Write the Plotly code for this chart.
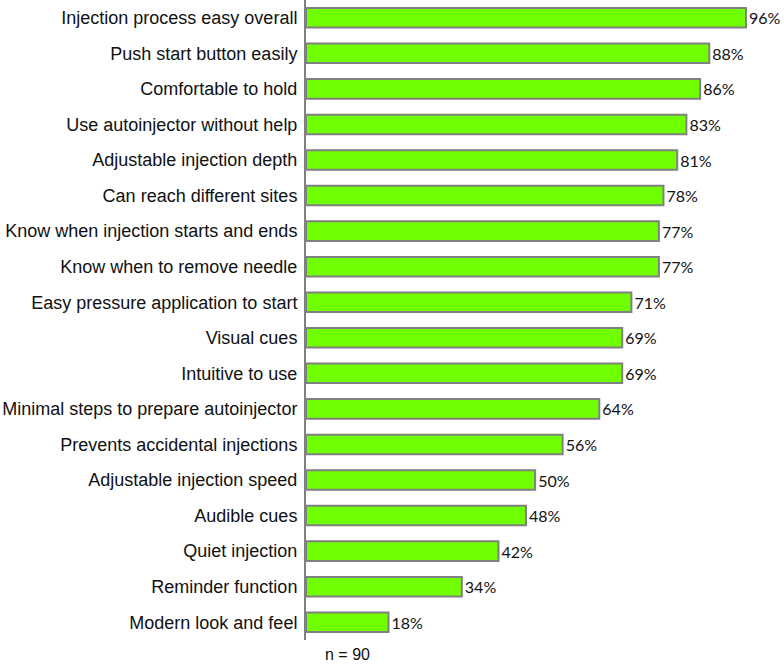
import plotly.graph_objects as go

categories = [
    "Injection process easy overall",
    "Push start button easily",
    "Comfortable to hold",
    "Use autoinjector without help",
    "Adjustable injection depth",
    "Can reach different sites",
    "Know when injection starts and ends",
    "Know when to remove needle",
    "Easy pressure application to start",
    "Visual cues",
    "Intuitive to use",
    "Minimal steps to prepare autoinjector",
    "Prevents accidental injections",
    "Adjustable injection speed",
    "Audible cues",
    "Quiet injection",
    "Reminder function",
    "Modern look and feel",
]
values = [96, 88, 86, 83, 81, 78, 77, 77, 71, 69, 69, 64, 56, 50, 48, 42, 34, 18]
labels = [f"{v}%" for v in values]
note = "n = 90"

fig = go.Figure(go.Bar(
    y=categories, x=values, orientation="h",
    marker=dict(color="#70FF00", line=dict(color="#808080", width=2)),
    text=labels, textposition="outside", cliponaxis=False,
    textfont=dict(family="Lato, Open Sans, sans-serif", size=16, color="#111111"),
    width=0.55,
))

fig.update_layout(
    width=784, height=665,
    margin=dict(l=306, r=0, t=0, b=25),
    paper_bgcolor="white", plot_bgcolor="white",
    showlegend=False,
    xaxis=dict(range=[0, 104.3], visible=False),
    yaxis=dict(
        autorange="reversed", showline=True, linecolor="#808080", linewidth=2,
        ticks="", showgrid=False, ticklabelstandoff=3, automargin=False,
        tickfont=dict(family="Liberation Sans, Arial, sans-serif", size=18, color="#111111"),
    ),
    annotations=[dict(
        text=note, xref="paper", yref="paper", x=0.036, y=-0.022,
        xanchor="left", yanchor="middle", showarrow=False,
        font=dict(family="Liberation Sans, Arial, sans-serif", size=16, color="#111111"),
    )],
)

fig.write_html("out.html", config={"displayModeBar": False},
               post_script="document.body.style.margin='0';")
